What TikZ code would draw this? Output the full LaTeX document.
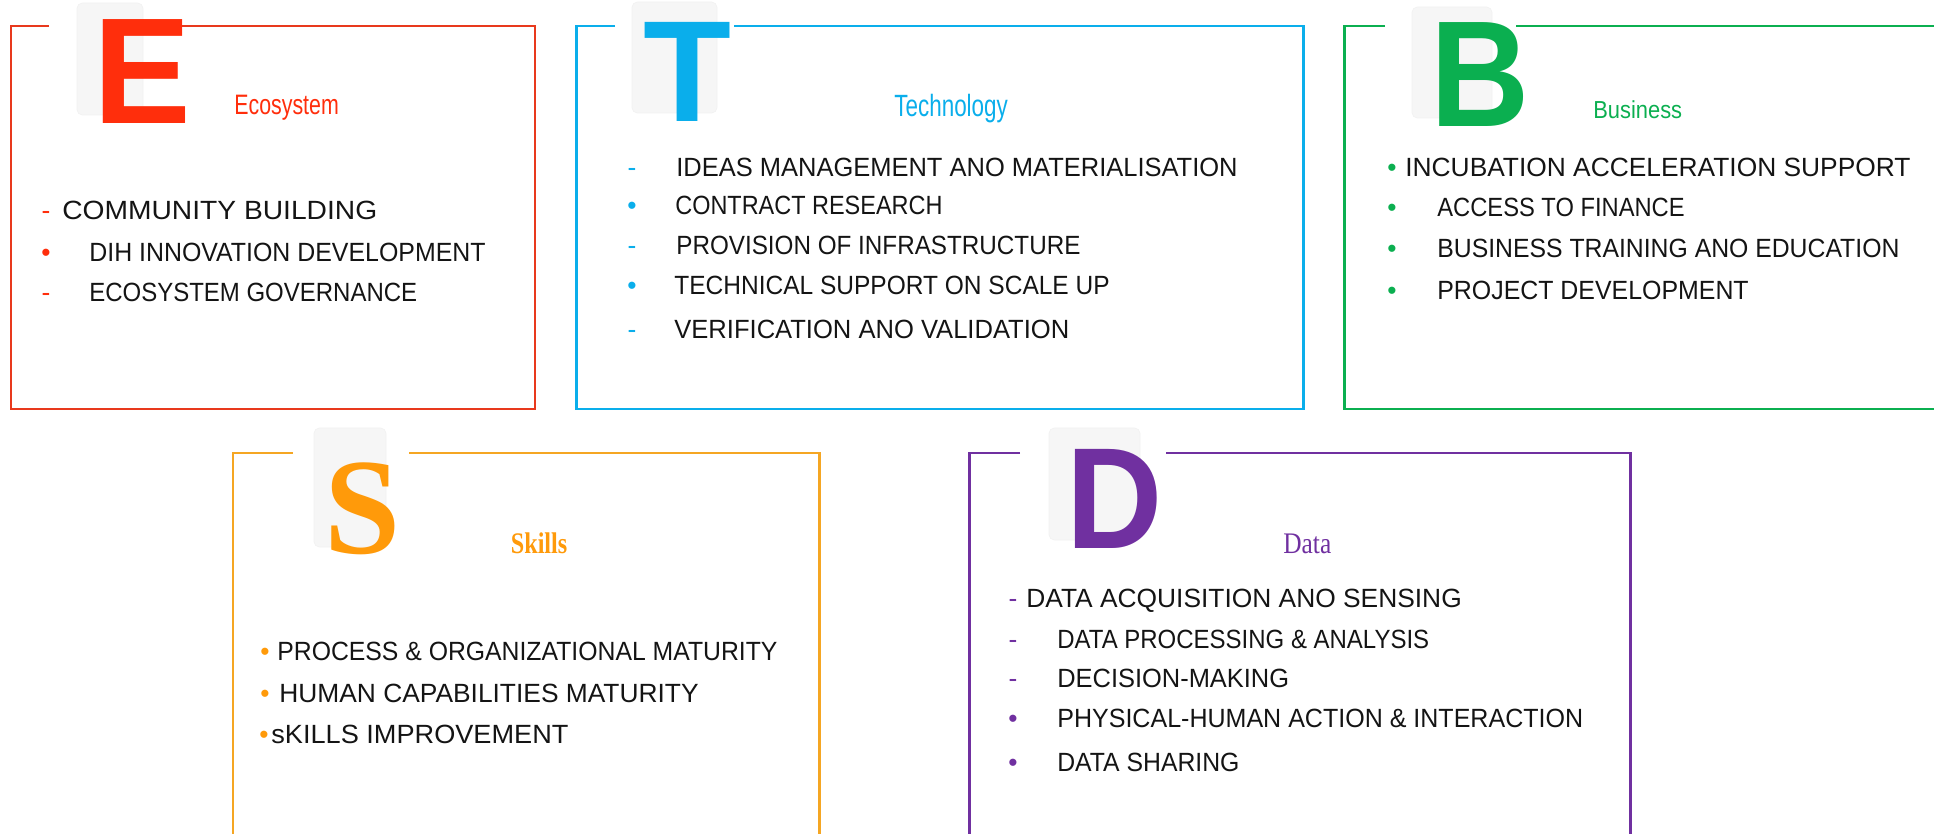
\documentclass[tikz,border=0pt]{standalone}
\usepackage{fontspec}
\setmainfont{Liberation Sans}
\newfontfamily\serifa{Liberation Serif}
\usepackage{graphicx}
\definecolor{rojo}{HTML}{FF2E0C}
\definecolor{rojomarco}{HTML}{E8391D}
\definecolor{celeste}{HTML}{0AAEEB}
\definecolor{verde}{HTML}{0BAF50}
\definecolor{naranja}{HTML}{FF9A0A}
\definecolor{naranjamarco}{HTML}{F5A623}
\definecolor{morado}{HTML}{7030A0}
\definecolor{sombra}{HTML}{F6F6F6}
\definecolor{tinta}{HTML}{141414}
\newcommand{\estrecho}[2]{\scalebox{#1}[1]{#2}}

\begin{document}
\begin{tikzpicture}[x=0.02cm, y=-0.02cm,
    marco/.style={line width=1.7pt},
    fondo/.style={fill=sombra, draw=black!5, rounded corners=3pt},
    letra/.style={inner sep=0, anchor=base},
    titulo/.style={inner sep=0, anchor=base west},
    item/.style={inner sep=0, anchor=base west, text=tinta, font=\fontsize{15}{15}\selectfont},
    vineta/.style={inner sep=0, anchor=base, font=\fontsize{15}{15}\selectfont}]
  \useasboundingbox (0,0) rectangle (1934,834);

  % E
  \fill[fondo] (77,3) rectangle (143,115);
  \draw[marco, rojomarco] (49,26) -- (11,26) -- (11,409) -- (535,409) -- (535,26) -- (182,26);
  \node[letra, text=rojo, font=\fontsize{86}{86}\selectfont\bfseries] (E) at (142.5,124) {\estrecho{0.97}{E}};
  \node[titulo, text=rojo, font=\fontsize{16}{16}\selectfont] (tE) at (234,115) {\estrecho{0.76}{Ecosystem}};
  \node[vineta, text=rojo] (vE1) at (46,220) {-};
  \node[item] (iE1) at (62,220) {\estrecho{1.07}{COMMUNITY BUILDING}};
  \node[vineta, text=rojo] (vE2) at (46,262) {•};
  \node[item] (iE2) at (89,262) {\estrecho{0.945}{DIH INNOVATION DEVELOPMENT}};
  \node[vineta, text=rojo] (vE3) at (46,302) {-};
  \node[item] (iE3) at (89,302) {\estrecho{0.91}{ECOSYSTEM GOVERNANCE}};

  % T
  \fill[fondo] (632,2) rectangle (717,113);
  \draw[marco, celeste] (615,26) -- (576,26) -- (576,409) -- (1303,409) -- (1303,26) -- (734,26);
  \node[letra, text=celeste, font=\fontsize{82}{82}\selectfont\bfseries] (T) at (687.5,122) {T};
  \node[titulo, text=celeste, font=\fontsize{17.5}{17.5}\selectfont] (tT) at (894,117) {\estrecho{0.73}{Technology}};
  \node[vineta, text=celeste] (vT1) at (632,177) {-};
  \node[item] (iT1) at (676,177) {\estrecho{0.967}{IDEAS MANAGEMENT ANO MATERIALISATION}};
  \node[vineta, text=celeste] (vT2) at (632,215) {•};
  \node[item] (iT2) at (675,215) {\estrecho{0.89}{CONTRACT RESEARCH}};
  \node[vineta, text=celeste] (vT3) at (632,255) {-};
  \node[item] (iT3) at (676,255) {\estrecho{0.92}{PROVISION OF INFRASTRUCTURE}};
  \node[vineta, text=celeste] (vT4) at (632,295) {•};
  \node[item] (iT4) at (674,295) {\estrecho{0.93}{TECHNICAL SUPPORT ON SCALE UP}};
  \node[vineta, text=celeste] (vT5) at (632,339) {-};
  \node[item] (iT5) at (674,339) {\estrecho{0.97}{VERIFICATION ANO VALIDATION}};

  % B
  \fill[fondo] (1412,7) rectangle (1492,118);
  \draw[marco, verde] (1385,26) -- (1344,26) -- (1344,409) -- (1940,409);
  \draw[marco, verde] (1516,26) -- (1940,26);
  \node[letra, text=verde, font=\fontsize{86}{86}\selectfont\bfseries] (B) at (1480.5,127) {\estrecho{0.91}{B}};
  \node[titulo, text=verde, font=\fontsize{14}{14}\selectfont] (tB) at (1593,119) {\estrecho{0.89}{Business}};
  \node[vineta, text=verde] (vB1) at (1392,177) {•};
  \node[item] (iB1) at (1405,177) {INCUBATION ACCELERATION SUPPORT};
  \node[vineta, text=verde] (vB2) at (1392,217) {•};
  \node[item] (iB2) at (1437,217) {\estrecho{0.90}{ACCESS TO FINANCE}};
  \node[vineta, text=verde] (vB3) at (1392,258) {•};
  \node[item] (iB3) at (1437,258) {\estrecho{0.94}{BUSINESS TRAINING ANO EDUCATION}};
  \node[vineta, text=verde] (vB4) at (1392,300) {•};
  \node[item] (iB4) at (1437,300) {\estrecho{0.945}{PROJECT DEVELOPMENT}};

  % S
  \fill[fondo] (314,428) rectangle (386,547);
  \draw[marco, naranjamarco] (293,453) -- (233,453) -- (233,840);
  \draw[marco, naranjamarco] (409,453) -- (819,453) -- (819,840);
  \node[letra, text=naranja, font=\fontsize{78}{78}\selectfont\serifa\bfseries] (S) at (363,553) {S};
  \node[titulo, text=naranja, font=\fontsize{17}{17}\selectfont\serifa\bfseries] (tS) at (510.5,553) {\estrecho{0.81}{Skills}};
  \node[vineta, text=naranja] (vS1) at (265,660) {•};
  \node[item] (iS1) at (277,660) {\estrecho{0.94}{PROCESS \& ORGANIZATIONAL MATURITY}};
  \node[vineta, text=naranja] (vS2) at (265,702) {•};
  \node[item] (iS2) at (279,702) {HUMAN CAPABILITIES MATURITY};
  \node[vineta, text=naranja] (vS3) at (264,743) {•};
  \node[item] (iS3) at (271,743) {\estrecho{1.03}{sKILLS IMPROVEMENT}};

  % D
  \fill[fondo] (1049,428) rectangle (1140,540);
  \draw[marco, morado] (1020,453) -- (969,453) -- (969,840);
  \draw[marco, morado] (1166,453) -- (1630,453) -- (1630,840);
  \node[letra, text=morado, font=\fontsize{82}{82}\selectfont\bfseries] (D) at (1115,548) {\estrecho{0.925}{D}};
  \node[titulo, text=morado, font=\fontsize{17}{17}\selectfont\serifa] (tD) at (1283,553) {\estrecho{0.85}{Data}};
  \node[vineta, text=morado] (vD1) at (1013,607) {-};
  \node[item] (iD1) at (1026,607) {DATA ACQUISITION ANO SENSING};
  \node[vineta, text=morado] (vD2) at (1013,648) {-};
  \node[item] (iD2) at (1057,648) {\estrecho{0.91}{DATA PROCESSING \& ANALYSIS}};
  \node[vineta, text=morado] (vD3) at (1013,687) {-};
  \node[item] (iD3) at (1057,687) {\estrecho{0.965}{DECISION-MAKING}};
  \node[vineta, text=morado] (vD4) at (1013,727) {•};
  \node[item] (iD4) at (1057,727) {\estrecho{0.95}{PHYSICAL-HUMAN ACTION \& INTERACTION}};
  \node[vineta, text=morado] (vD5) at (1013,771) {•};
  \node[item] (iD5) at (1057,771) {\estrecho{0.94}{DATA SHARING}};
\end{tikzpicture}
\end{document}
